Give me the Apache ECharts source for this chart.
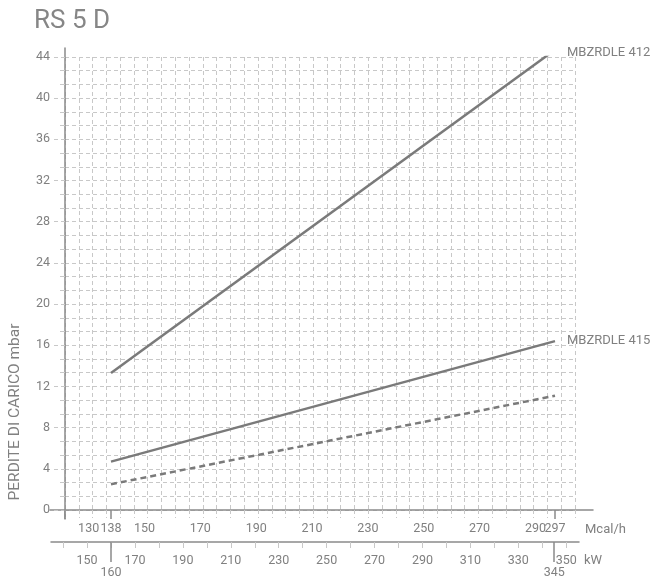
<!DOCTYPE html>
<html><head><meta charset="utf-8">
<script src="https://cdn.jsdelivr.net/npm/echarts@6/dist/echarts.min.js"></script>
<style>html,body{margin:0;padding:0;background:#fff}#c{width:654px;height:580px}</style>
</head><body><div id="c"></div>
<script>
// ---- data ----
const titleText = 'RS 5 D';
const yName = 'PERDITE DI CARICO mbar';
const mcalLabels = [130, 138, 150, 170, 190, 210, 230, 250, 270, 290];
const mcalEndLabel = [297];
const mcalMarked = [138, 297];
const kwLabels = [150, 170, 190, 210, 230, 250, 270, 290, 310, 330, 350];
const kwMinor = [140, 150, 160, 170, 180, 190, 200, 210, 220, 230, 240, 250, 260, 270, 280, 290, 300, 310, 320, 330, 340, 350];
const kwMarked = [160, 345];
const flow = [138, 297];                 // Mcal/h
const loss412 = [13.3, 44.7];            // mbar
const loss415 = [4.7, 16.4];             // mbar
const lossDashed = [2.5, 11.1];          // mbar
const seriesNames = ['MBZRDLE 412', 'MBZRDLE 415', 'MBZRDLE 415 '];

// ---- style ----
const FONT = 'Roboto';
const TXT = '#808080';
const AX = '#8a8a8a';
const GRID = '#c8c8c8';
const LINE = '#7a7a7a';
const FS = 12.5;

const mcalMin = 121.53, mcalMax = 304.16;
const kwMin = 134.96, kwMax = 355.33;

const pair = (xs, ys) => xs.map((x, i) => [x, ys[i]]);
const hidden = { show: false };
const lbl = (vals, margin) => ({ show: true, customValues: vals, showMinLabel: true, showMaxLabel: true, hideOverlap: false,
  margin: margin, color: TXT, fontFamily: FONT, fontSize: FS });

const chart = echarts.init(document.getElementById('c'), null, { renderer: 'canvas' });
chart.setOption({
  animation: false,
  backgroundColor: '#fff',
  title: {
    text: titleText, left: 29, top: 3,
    textStyle: { fontFamily: FONT, fontSize: 26, fontWeight: 'normal', color: '#868686' }
  },
  graphic: [{
    type: 'text', x: 15, y: 412, rotation: Math.PI / 2,
    style: { text: yName, fontFamily: FONT, fontSize: 15.5, fill: TXT, align: 'center', verticalAlign: 'middle' }
  }],
  grid: [
    { left: 65, top: 57, width: 510, height: 453, outerBoundsMode: 'none' },
    { left: 50, top: 57, width: 543, height: 453, outerBoundsMode: 'none' },
    { left: 51, top: 57, width: 528, height: 485, outerBoundsMode: 'none' },
    { left: 65, top: 48, width: 510, height: 471, outerBoundsMode: 'none' }
  ],
  xAxis: [
    { // square background grid columns
      gridIndex: 0, type: 'value', position: 'bottom', min: 0, max: 37, interval: 1,
      axisLine: hidden, axisLabel: hidden,
      axisTick: { show: true, length: 8, lineStyle: { color: GRID, type: [4, 3] } },
      splitLine: { show: true, lineStyle: { color: GRID, type: [4, 3], width: 1 } }
    },
    { // Mcal/h scale (series axis)
      gridIndex: 0, type: 'value', position: 'bottom', min: mcalMin, max: mcalMax,
      axisLine: hidden, splitLine: hidden,
      axisTick: { show: true, customValues: [mcalMin].concat(mcalMarked), length: 9, lineStyle: { color: AX, width: 1.5 } },
      axisLabel: lbl(mcalLabels, 12)
    },
    { // Mcal/h end label
      gridIndex: 0, type: 'value', position: 'bottom', min: mcalMin, max: mcalMax,
      axisLine: hidden, splitLine: hidden, axisTick: hidden,
      axisLabel: lbl(mcalEndLabel, 12)
    },
    { // Mcal/h axis line
      gridIndex: 1, type: 'value', position: 'bottom', min: 0, max: 1,
      axisLine: { show: true, lineStyle: { color: AX, width: 1.5 } },
      axisTick: hidden, axisLabel: hidden, splitLine: hidden,
      name: 'Mcal/h', nameLocation: 'end', nameGap: -8,
      nameTextStyle: { color: TXT, fontFamily: FONT, fontSize: 13, verticalAlign: 'top', padding: [13, 0, 0, 0] }
    },
    { // kW scale
      gridIndex: 2, type: 'value', position: 'bottom', min: kwMin, max: kwMax,
      axisLine: { show: true, lineStyle: { color: AX, width: 1.5 } },
      splitLine: hidden,
      axisTick: { show: true, customValues: kwMinor, length: 6, lineStyle: { color: GRID, width: 1 } },
      axisLabel: lbl(kwLabels, 12),
      name: 'kW', nameLocation: 'end', nameGap: 5,
      nameTextStyle: { color: TXT, fontFamily: FONT, fontSize: 13, verticalAlign: 'top', padding: [12, 0, 0, 0] }
    },
    { // kW marked values
      gridIndex: 2, type: 'value', position: 'bottom', min: kwMin, max: kwMax,
      axisLine: hidden, splitLine: hidden,
      axisTick: { show: true, customValues: kwMarked, length: 20, lineStyle: { color: AX, width: 1.5 } },
      axisLabel: lbl(kwMarked, 24)
    },
    { gridIndex: 3, type: 'value', show: false, min: 0, max: 1 }
  ],
  yAxis: [
    {
      gridIndex: 0, type: 'value', min: 0, max: 44, interval: 4,
      axisLine: hidden,
      axisTick: { show: true, length: 12, lineStyle: { color: GRID, type: [4, 3] } },
      minorTick: { show: true, splitNumber: 3, length: 5, lineStyle: { color: GRID } },
      axisLabel: { margin: 15, color: TXT, fontFamily: FONT, fontSize: FS },
      splitLine: { show: true, lineStyle: { color: GRID, type: [4, 3], width: 1 } },
      minorSplitLine: { show: true, lineStyle: { color: GRID, type: [4, 3], width: 1 } }
    },
    { gridIndex: 1, type: 'value', show: false },
    { gridIndex: 2, type: 'value', show: false },
    {
      gridIndex: 3, type: 'value', min: 0, max: 1,
      axisLine: { show: true, lineStyle: { color: AX, width: 1.5 } },
      axisTick: hidden, axisLabel: hidden, splitLine: hidden
    }
  ],
  series: [
    {
      name: seriesNames[0], type: 'line', xAxisIndex: 1, yAxisIndex: 0,
      data: pair(flow, loss412), symbol: 'none',
      lineStyle: { color: LINE, width: 2.5 },
      endLabel: { show: true, formatter: '{a}', distance: 12, offset: [0, 3], color: TXT, fontFamily: FONT, fontSize: 13 }
    },
    {
      name: seriesNames[1], type: 'line', xAxisIndex: 1, yAxisIndex: 0,
      data: pair(flow, loss415), symbol: 'none',
      lineStyle: { color: LINE, width: 2.5 },
      endLabel: { show: true, formatter: '{a}', distance: 12, color: TXT, fontFamily: FONT, fontSize: 13 }
    },
    {
      name: seriesNames[2], type: 'line', xAxisIndex: 1, yAxisIndex: 0,
      data: pair(flow, lossDashed), symbol: 'none',
      lineStyle: { color: LINE, width: 2.5, type: [6, 4] }
    }
  ]
});
</script>
</body></html>
